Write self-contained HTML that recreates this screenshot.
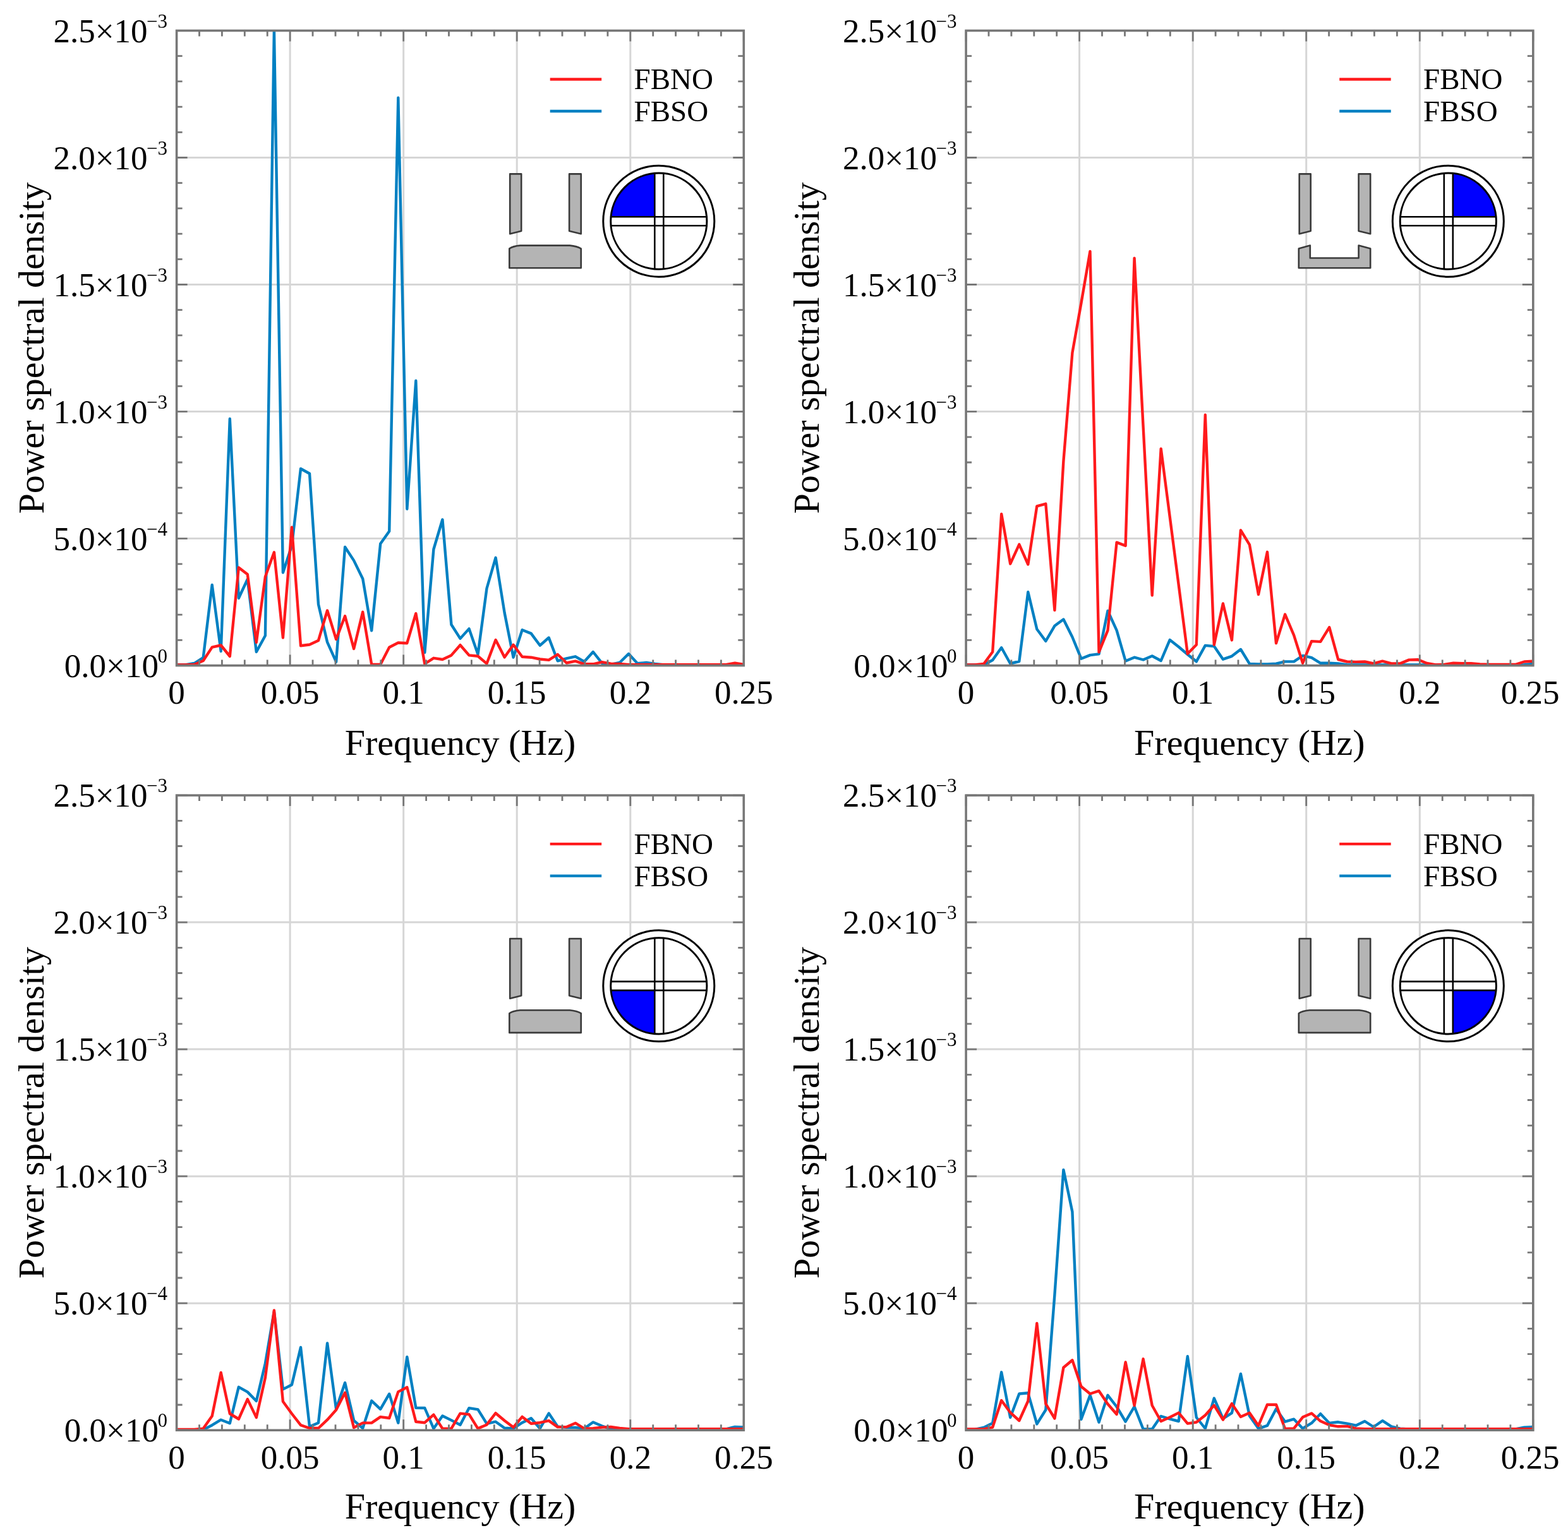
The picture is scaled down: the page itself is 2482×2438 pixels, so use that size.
<!DOCTYPE html><html><head><meta charset="utf-8"><style>html,body{margin:0;padding:0;background:#fff}svg{display:block}</style></head><body>
<svg width="2482" height="2438" viewBox="0 0 2482 2438" font-family="'Liberation Serif', 'Times New Roman', serif" fill="#000">
<rect width="2482" height="2438" fill="#fff"/>
<g><path d="M459.1 48.5V1053.6M638.7 48.5V1053.6M818.2 48.5V1053.6M997.8 48.5V1053.6M279.6 852.6H1177.3M279.6 651.6H1177.3M279.6 450.5H1177.3M279.6 249.5H1177.3" stroke="#d6d6d6" stroke-width="3" fill="none"/><clipPath id="c0"><rect x="279.6" y="48.0" width="897.7" height="1006.1"/></clipPath><polyline points="279.6,1052.5 293.6,1052.5 307.7,1050.0 321.7,1041.0 335.7,926.0 349.7,1031.0 363.8,663.0 377.8,947.0 391.8,917.0 405.8,1032.0 419.9,1006.3 433.9,47.0 447.9,906.5 461.9,864.0 476.0,742.0 490.0,749.7 504.0,956.8 518.1,1016.7 532.1,1047.9 546.1,866.0 560.1,887.4 574.2,916.2 588.2,998.3 602.2,860.8 616.2,841.0 630.3,154.8 644.3,805.8 658.3,602.8 672.3,1033.0 686.4,869.5 700.4,822.5 714.4,988.8 728.5,1010.9 742.5,995.4 756.5,1035.9 770.5,931.5 784.6,882.8 798.6,970.0 812.6,1040.7 826.6,997.2 840.7,1002.9 854.7,1021.8 868.7,1009.5 882.7,1046.3 896.8,1042.3 910.8,1039.3 924.8,1047.5 938.8,1032.0 952.9,1049.8 966.9,1052.0 980.9,1049.0 995.0,1035.1 1009.0,1050.2 1023.0,1049.0 1037.0,1051.0 1051.1,1052.5 1065.1,1052.5 1079.1,1052.5 1093.1,1052.5 1107.2,1052.5 1121.2,1052.5 1135.2,1052.5 1149.2,1052.5 1163.3,1052.5 1177.3,1052.5" fill="none" stroke="#0080c2" stroke-width="4.4" stroke-linejoin="round" stroke-linecap="round" clip-path="url(#c0)"/><polyline points="279.6,1052.5 293.6,1052.5 307.7,1052.0 321.7,1046.0 335.7,1024.6 349.7,1021.5 363.8,1039.0 377.8,898.5 391.8,909.3 405.8,1017.0 419.9,913.0 433.9,874.3 447.9,1009.5 461.9,834.6 476.0,1022.3 490.0,1020.5 504.0,1014.0 518.1,966.5 532.1,1012.1 546.1,975.2 560.1,1027.1 574.2,968.8 588.2,1052.0 602.2,1052.0 616.2,1024.8 630.3,1017.5 644.3,1018.2 658.3,971.2 672.3,1051.0 686.4,1041.8 700.4,1044.0 714.4,1037.4 728.5,1021.2 742.5,1037.4 756.5,1038.8 770.5,1050.6 784.6,1013.0 798.6,1040.5 812.6,1020.8 826.6,1039.7 840.7,1040.7 854.7,1043.5 868.7,1044.9 882.7,1036.0 896.8,1049.5 910.8,1046.7 924.8,1051.3 938.8,1051.3 952.9,1048.2 966.9,1050.6 980.9,1051.0 995.0,1052.2 1009.0,1052.2 1023.0,1052.2 1037.0,1052.2 1051.1,1052.2 1065.1,1052.2 1079.1,1052.2 1093.1,1052.2 1107.2,1052.2 1121.2,1052.2 1135.2,1052.2 1149.2,1052.2 1163.3,1049.7 1177.3,1052.0" fill="none" stroke="#ff1a1c" stroke-width="4.4" stroke-linejoin="round" stroke-linecap="round" clip-path="url(#c0)"/><path d="M279.6 1053.6v-17M279.6 48.5v17M279.6 1053.6h17M1177.3 1053.6h-17M315.5 1053.6v-9M315.5 48.5v9M279.6 1013.4h9M1177.3 1013.4h-9M351.4 1053.6v-9M351.4 48.5v9M279.6 973.2h9M1177.3 973.2h-9M387.3 1053.6v-9M387.3 48.5v9M279.6 933.0h9M1177.3 933.0h-9M423.2 1053.6v-9M423.2 48.5v9M279.6 892.8h9M1177.3 892.8h-9M459.1 1053.6v-17M459.1 48.5v17M279.6 852.6h17M1177.3 852.6h-17M495.0 1053.6v-9M495.0 48.5v9M279.6 812.4h9M1177.3 812.4h-9M531.0 1053.6v-9M531.0 48.5v9M279.6 772.2h9M1177.3 772.2h-9M566.9 1053.6v-9M566.9 48.5v9M279.6 732.0h9M1177.3 732.0h-9M602.8 1053.6v-9M602.8 48.5v9M279.6 691.8h9M1177.3 691.8h-9M638.7 1053.6v-17M638.7 48.5v17M279.6 651.6h17M1177.3 651.6h-17M674.6 1053.6v-9M674.6 48.5v9M279.6 611.4h9M1177.3 611.4h-9M710.5 1053.6v-9M710.5 48.5v9M279.6 571.2h9M1177.3 571.2h-9M746.4 1053.6v-9M746.4 48.5v9M279.6 530.9h9M1177.3 530.9h-9M782.3 1053.6v-9M782.3 48.5v9M279.6 490.7h9M1177.3 490.7h-9M818.2 1053.6v-17M818.2 48.5v17M279.6 450.5h17M1177.3 450.5h-17M854.1 1053.6v-9M854.1 48.5v9M279.6 410.3h9M1177.3 410.3h-9M890.0 1053.6v-9M890.0 48.5v9M279.6 370.1h9M1177.3 370.1h-9M925.9 1053.6v-9M925.9 48.5v9M279.6 329.9h9M1177.3 329.9h-9M961.9 1053.6v-9M961.9 48.5v9M279.6 289.7h9M1177.3 289.7h-9M997.8 1053.6v-17M997.8 48.5v17M279.6 249.5h17M1177.3 249.5h-17M1033.7 1053.6v-9M1033.7 48.5v9M279.6 209.3h9M1177.3 209.3h-9M1069.6 1053.6v-9M1069.6 48.5v9M279.6 169.1h9M1177.3 169.1h-9M1105.5 1053.6v-9M1105.5 48.5v9M279.6 128.9h9M1177.3 128.9h-9M1141.4 1053.6v-9M1141.4 48.5v9M279.6 88.7h9M1177.3 88.7h-9M1177.3 1053.6v-17M1177.3 48.5v17M279.6 48.5h17M1177.3 48.5h-17" stroke="#777" stroke-width="2.8" fill="none"/><rect x="279.6" y="48.5" width="897.7" height="1005.1" fill="none" stroke="#777" stroke-width="3.6"/><text x="265.0" y="1071.6" font-size="53" text-anchor="end">0.0×10<tspan font-size="31" dx="-1.5" dy="-23">0</tspan></text><text x="265.0" y="870.6" font-size="53" text-anchor="end">5.0×10<tspan font-size="31" dx="-1.5" dy="-23">−4</tspan></text><text x="265.0" y="669.6" font-size="53" text-anchor="end">1.0×10<tspan font-size="31" dx="-1.5" dy="-23">−3</tspan></text><text x="265.0" y="468.5" font-size="53" text-anchor="end">1.5×10<tspan font-size="31" dx="-1.5" dy="-23">−3</tspan></text><text x="265.0" y="267.5" font-size="53" text-anchor="end">2.0×10<tspan font-size="31" dx="-1.5" dy="-23">−3</tspan></text><text x="265.0" y="66.5" font-size="53" text-anchor="end">2.5×10<tspan font-size="31" dx="-1.5" dy="-23">−3</tspan></text><text x="279.6" y="1114.2" font-size="53" text-anchor="middle">0</text><text x="459.1" y="1114.2" font-size="53" text-anchor="middle">0.05</text><text x="638.7" y="1114.2" font-size="53" text-anchor="middle">0.1</text><text x="818.2" y="1114.2" font-size="53" text-anchor="middle">0.15</text><text x="997.8" y="1114.2" font-size="53" text-anchor="middle">0.2</text><text x="1177.3" y="1114.2" font-size="53" text-anchor="middle">0.25</text><text x="728.5" y="1195.0" font-size="58" text-anchor="middle">Frequency (Hz)</text><text transform="translate(69.4,551.0) rotate(-90)" font-size="58" text-anchor="middle">Power spectral density</text><path d="M870.7 125.5H952.2" stroke="#ff1a1c" stroke-width="4.4"/><path d="M870.7 176.0H952.2" stroke="#0080c2" stroke-width="4.4"/><text x="1003.6" y="141.1" font-size="47">FBNO</text><text x="1003.6" y="192.2" font-size="47">FBSO</text><path d="M807.2 275.4L825.2 275.4L825.2 365.7L807.2 370.2Z" stroke="#3a3a3a" stroke-width="2.6" fill="#b4b4b4" stroke-linejoin="round"/><path d="M901.1 275.4L919.7 275.4L919.7 370.2L901.1 365.7Z" stroke="#3a3a3a" stroke-width="2.6" fill="#b4b4b4" stroke-linejoin="round"/><path d="M806.3 424.3L919.7 424.3L919.7 393.6Q913.0 389.5 902.0 388.6L823.4 388.6Q812.0 389.5 806.3 393.6Z" stroke="#3a3a3a" stroke-width="2.6" fill="#b4b4b4" stroke-linejoin="round"/><circle cx="1042.8" cy="350.2" r="88" fill="#fff" stroke="#000" stroke-width="3"/><path d="M1036.30 343.30L1036.30 274.38A76.1 76.1 0 0 0 967.01 343.30Z" fill="#0000ff"/><circle cx="1042.8" cy="350.2" r="76.1" fill="none" stroke="#000" stroke-width="3"/><path d="M1036.30 274.38V426.02M1050.30 274.47V425.93M967.01 343.30H1118.59M967.03 357.30H1118.57" stroke="#000" stroke-width="2.6" fill="none"/></g>
<g><path d="M1708.6 48.5V1053.6M1888.2 48.5V1053.6M2067.7 48.5V1053.6M2247.3 48.5V1053.6M1529.1 852.6H2426.8M1529.1 651.6H2426.8M1529.1 450.5H2426.8M1529.1 249.5H2426.8" stroke="#d6d6d6" stroke-width="3" fill="none"/><clipPath id="c1"><rect x="1529.1" y="48.0" width="897.7" height="1006.1"/></clipPath><polyline points="1529.1,1052.5 1543.1,1052.5 1557.2,1052.5 1571.2,1045.0 1585.2,1025.3 1599.2,1050.5 1613.3,1047.0 1627.3,937.3 1641.3,996.0 1655.3,1015.0 1669.4,990.8 1683.4,980.5 1697.4,1008.5 1711.4,1042.7 1725.5,1037.1 1739.5,1035.4 1753.5,967.0 1767.6,997.9 1781.6,1046.5 1795.6,1040.7 1809.6,1044.5 1823.7,1038.5 1837.7,1046.0 1851.7,1013.0 1865.7,1024.0 1879.8,1036.0 1893.8,1047.3 1907.8,1021.9 1921.8,1023.1 1935.9,1043.7 1949.9,1038.8 1963.9,1028.0 1977.9,1050.9 1992.0,1051.5 2006.0,1051.5 2020.0,1050.6 2034.1,1047.4 2048.1,1047.4 2062.1,1038.0 2076.1,1041.1 2090.2,1049.8 2104.2,1049.8 2118.2,1050.5 2132.2,1052.5 2146.3,1052.5 2160.3,1052.5 2174.3,1052.5 2188.3,1052.5 2202.4,1052.5 2216.4,1052.5 2230.4,1052.5 2244.5,1052.5 2258.5,1052.5 2272.5,1052.5 2286.5,1052.5 2300.6,1052.5 2314.6,1052.5 2328.6,1052.5 2342.6,1052.5 2356.7,1052.5 2370.7,1052.5 2384.7,1052.5 2398.7,1052.5 2412.8,1052.3 2426.8,1051.0" fill="none" stroke="#0080c2" stroke-width="4.4" stroke-linejoin="round" stroke-linecap="round" clip-path="url(#c1)"/><polyline points="1529.1,1052.5 1543.1,1052.5 1557.2,1051.0 1571.2,1032.0 1585.2,813.6 1599.2,892.6 1613.3,861.8 1627.3,893.5 1641.3,801.3 1655.3,797.6 1669.4,966.0 1683.4,730.0 1697.4,558.6 1711.4,480.0 1725.5,397.9 1739.5,1032.5 1753.5,997.9 1767.6,858.6 1781.6,863.9 1795.6,408.6 1809.6,675.5 1823.7,942.5 1837.7,710.4 1851.7,818.0 1865.7,926.0 1879.8,1035.0 1893.8,1020.7 1907.8,656.8 1921.8,1020.7 1935.9,955.4 1949.9,1013.4 1963.9,839.4 1977.9,862.3 1992.0,941.0 2006.0,873.8 2020.0,1018.3 2034.1,972.6 2048.1,1005.7 2062.1,1049.8 2076.1,1015.1 2090.2,1015.9 2104.2,993.1 2118.2,1044.0 2132.2,1047.5 2146.3,1047.9 2160.3,1047.5 2174.3,1050.4 2188.3,1046.7 2202.4,1050.4 2216.4,1050.4 2230.4,1044.6 2244.5,1044.2 2258.5,1050.0 2272.5,1052.4 2286.5,1052.0 2300.6,1049.7 2314.6,1050.2 2328.6,1050.2 2342.6,1051.5 2356.7,1052.0 2370.7,1052.0 2384.7,1052.0 2398.7,1052.0 2412.8,1047.5 2426.8,1046.7" fill="none" stroke="#ff1a1c" stroke-width="4.4" stroke-linejoin="round" stroke-linecap="round" clip-path="url(#c1)"/><path d="M1529.1 1053.6v-17M1529.1 48.5v17M1529.1 1053.6h17M2426.8 1053.6h-17M1565.0 1053.6v-9M1565.0 48.5v9M1529.1 1013.4h9M2426.8 1013.4h-9M1600.9 1053.6v-9M1600.9 48.5v9M1529.1 973.2h9M2426.8 973.2h-9M1636.8 1053.6v-9M1636.8 48.5v9M1529.1 933.0h9M2426.8 933.0h-9M1672.7 1053.6v-9M1672.7 48.5v9M1529.1 892.8h9M2426.8 892.8h-9M1708.6 1053.6v-17M1708.6 48.5v17M1529.1 852.6h17M2426.8 852.6h-17M1744.5 1053.6v-9M1744.5 48.5v9M1529.1 812.4h9M2426.8 812.4h-9M1780.5 1053.6v-9M1780.5 48.5v9M1529.1 772.2h9M2426.8 772.2h-9M1816.4 1053.6v-9M1816.4 48.5v9M1529.1 732.0h9M2426.8 732.0h-9M1852.3 1053.6v-9M1852.3 48.5v9M1529.1 691.8h9M2426.8 691.8h-9M1888.2 1053.6v-17M1888.2 48.5v17M1529.1 651.6h17M2426.8 651.6h-17M1924.1 1053.6v-9M1924.1 48.5v9M1529.1 611.4h9M2426.8 611.4h-9M1960.0 1053.6v-9M1960.0 48.5v9M1529.1 571.2h9M2426.8 571.2h-9M1995.9 1053.6v-9M1995.9 48.5v9M1529.1 530.9h9M2426.8 530.9h-9M2031.8 1053.6v-9M2031.8 48.5v9M1529.1 490.7h9M2426.8 490.7h-9M2067.7 1053.6v-17M2067.7 48.5v17M1529.1 450.5h17M2426.8 450.5h-17M2103.6 1053.6v-9M2103.6 48.5v9M1529.1 410.3h9M2426.8 410.3h-9M2139.5 1053.6v-9M2139.5 48.5v9M1529.1 370.1h9M2426.8 370.1h-9M2175.4 1053.6v-9M2175.4 48.5v9M1529.1 329.9h9M2426.8 329.9h-9M2211.4 1053.6v-9M2211.4 48.5v9M1529.1 289.7h9M2426.8 289.7h-9M2247.3 1053.6v-17M2247.3 48.5v17M1529.1 249.5h17M2426.8 249.5h-17M2283.2 1053.6v-9M2283.2 48.5v9M1529.1 209.3h9M2426.8 209.3h-9M2319.1 1053.6v-9M2319.1 48.5v9M1529.1 169.1h9M2426.8 169.1h-9M2355.0 1053.6v-9M2355.0 48.5v9M1529.1 128.9h9M2426.8 128.9h-9M2390.9 1053.6v-9M2390.9 48.5v9M1529.1 88.7h9M2426.8 88.7h-9M2426.8 1053.6v-17M2426.8 48.5v17M1529.1 48.5h17M2426.8 48.5h-17" stroke="#777" stroke-width="2.8" fill="none"/><rect x="1529.1" y="48.5" width="897.7" height="1005.1" fill="none" stroke="#777" stroke-width="3.6"/><text x="1514.5" y="1071.6" font-size="53" text-anchor="end">0.0×10<tspan font-size="31" dx="-1.5" dy="-23">0</tspan></text><text x="1514.5" y="870.6" font-size="53" text-anchor="end">5.0×10<tspan font-size="31" dx="-1.5" dy="-23">−4</tspan></text><text x="1514.5" y="669.6" font-size="53" text-anchor="end">1.0×10<tspan font-size="31" dx="-1.5" dy="-23">−3</tspan></text><text x="1514.5" y="468.5" font-size="53" text-anchor="end">1.5×10<tspan font-size="31" dx="-1.5" dy="-23">−3</tspan></text><text x="1514.5" y="267.5" font-size="53" text-anchor="end">2.0×10<tspan font-size="31" dx="-1.5" dy="-23">−3</tspan></text><text x="1514.5" y="66.5" font-size="53" text-anchor="end">2.5×10<tspan font-size="31" dx="-1.5" dy="-23">−3</tspan></text><text x="1529.1" y="1114.2" font-size="53" text-anchor="middle">0</text><text x="1708.6" y="1114.2" font-size="53" text-anchor="middle">0.05</text><text x="1888.2" y="1114.2" font-size="53" text-anchor="middle">0.1</text><text x="2067.7" y="1114.2" font-size="53" text-anchor="middle">0.15</text><text x="2247.3" y="1114.2" font-size="53" text-anchor="middle">0.2</text><text x="2422.0" y="1114.2" font-size="53" text-anchor="middle">0.25</text><text x="1977.9" y="1195.0" font-size="58" text-anchor="middle">Frequency (Hz)</text><text transform="translate(1295.8,551.0) rotate(-90)" font-size="58" text-anchor="middle">Power spectral density</text><path d="M2120.2 125.5H2201.7" stroke="#ff1a1c" stroke-width="4.4"/><path d="M2120.2 176.0H2201.7" stroke="#0080c2" stroke-width="4.4"/><text x="2253.1" y="141.1" font-size="47">FBNO</text><text x="2253.1" y="192.2" font-size="47">FBSO</text><path d="M2056.7 275.4L2074.7 275.4L2074.7 365.7L2056.7 370.2Z" stroke="#3a3a3a" stroke-width="2.6" fill="#b4b4b4" stroke-linejoin="round"/><path d="M2150.6 275.4L2169.2 275.4L2169.2 370.2L2150.6 365.7Z" stroke="#3a3a3a" stroke-width="2.6" fill="#b4b4b4" stroke-linejoin="round"/><path d="M2055.8 424.3L2169.2 424.3L2169.2 393.6L2150.6 388.6L2150.6 408.5L2073.8 408.5L2073.8 388.6L2055.8 393.6Z" stroke="#3a3a3a" stroke-width="2.6" fill="#b4b4b4" stroke-linejoin="round"/><circle cx="2292.3" cy="350.2" r="88" fill="#fff" stroke="#000" stroke-width="3"/><path d="M2299.80 343.30L2299.80 274.47A76.1 76.1 0 0 1 2368.09 343.30Z" fill="#0000ff"/><circle cx="2292.3" cy="350.2" r="76.1" fill="none" stroke="#000" stroke-width="3"/><path d="M2285.80 274.38V426.02M2299.80 274.47V425.93M2216.51 343.30H2368.09M2216.53 357.30H2368.07" stroke="#000" stroke-width="2.6" fill="none"/></g>
<g><path d="M459.1 1259.1V2264.2M638.7 1259.1V2264.2M818.2 1259.1V2264.2M997.8 1259.1V2264.2M279.6 2063.2H1177.3M279.6 1862.2H1177.3M279.6 1661.1H1177.3M279.6 1460.1H1177.3" stroke="#d6d6d6" stroke-width="3" fill="none"/><clipPath id="c2"><rect x="279.6" y="1258.6" width="897.7" height="1006.1"/></clipPath><polyline points="279.6,2263.4 293.6,2263.4 307.7,2263.4 321.7,2263.4 335.7,2256.2 349.7,2247.7 363.8,2253.2 377.8,2195.8 391.8,2203.6 405.8,2218.0 419.9,2158.4 433.9,2076.0 447.9,2199.4 461.9,2192.2 476.0,2133.0 490.0,2258.6 504.0,2252.6 518.1,2126.4 532.1,2230.8 546.1,2189.0 560.1,2248.8 574.2,2261.0 588.2,2217.6 602.2,2230.8 616.2,2206.7 630.3,2252.6 644.3,2148.1 658.3,2228.9 672.3,2229.0 686.4,2261.6 700.4,2241.5 714.4,2248.4 728.5,2255.8 742.5,2229.1 756.5,2231.4 770.5,2253.8 784.6,2250.7 798.6,2260.8 812.6,2261.5 826.6,2252.2 840.7,2245.2 854.7,2261.5 868.7,2237.5 882.7,2258.4 896.8,2259.9 910.8,2259.9 924.8,2261.5 938.8,2251.5 952.9,2257.6 966.9,2262.2 980.9,2262.5 995.0,2262.5 1009.0,2262.5 1023.0,2262.5 1037.0,2262.5 1051.1,2262.5 1065.1,2262.5 1079.1,2262.5 1093.1,2262.5 1107.2,2262.5 1121.2,2262.5 1135.2,2262.5 1149.2,2262.5 1163.3,2259.0 1177.3,2259.5" fill="none" stroke="#0080c2" stroke-width="4.4" stroke-linejoin="round" stroke-linecap="round" clip-path="url(#c2)"/><polyline points="279.6,2263.0 293.6,2263.0 307.7,2263.0 321.7,2261.6 335.7,2241.7 349.7,2172.9 363.8,2238.0 377.8,2246.5 391.8,2215.1 405.8,2244.1 419.9,2181.0 433.9,2074.4 447.9,2218.7 461.9,2238.0 476.0,2256.2 490.0,2261.0 504.0,2261.0 518.1,2247.7 532.1,2232.0 546.1,2204.8 560.1,2260.1 574.2,2252.6 588.2,2252.6 602.2,2243.1 616.2,2245.0 630.3,2203.4 644.3,2196.3 658.3,2250.7 672.3,2252.2 686.4,2239.6 700.4,2261.6 714.4,2261.6 728.5,2237.6 742.5,2239.1 756.5,2261.6 770.5,2255.4 784.6,2237.2 798.6,2249.0 812.6,2259.6 826.6,2242.9 840.7,2253.7 854.7,2252.2 868.7,2249.1 882.7,2259.1 896.8,2259.1 910.8,2252.9 924.8,2261.5 938.8,2261.2 952.9,2259.6 966.9,2259.0 980.9,2261.0 995.0,2262.2 1009.0,2262.2 1023.0,2262.2 1037.0,2262.2 1051.1,2262.2 1065.1,2262.2 1079.1,2262.2 1093.1,2262.2 1107.2,2262.2 1121.2,2262.2 1135.2,2262.2 1149.2,2262.2 1163.3,2262.2 1177.3,2262.2" fill="none" stroke="#ff1a1c" stroke-width="4.4" stroke-linejoin="round" stroke-linecap="round" clip-path="url(#c2)"/><path d="M279.6 2264.2v-17M279.6 1259.1v17M279.6 2264.2h17M1177.3 2264.2h-17M315.5 2264.2v-9M315.5 1259.1v9M279.6 2224.0h9M1177.3 2224.0h-9M351.4 2264.2v-9M351.4 1259.1v9M279.6 2183.8h9M1177.3 2183.8h-9M387.3 2264.2v-9M387.3 1259.1v9M279.6 2143.6h9M1177.3 2143.6h-9M423.2 2264.2v-9M423.2 1259.1v9M279.6 2103.4h9M1177.3 2103.4h-9M459.1 2264.2v-17M459.1 1259.1v17M279.6 2063.2h17M1177.3 2063.2h-17M495.0 2264.2v-9M495.0 1259.1v9M279.6 2023.0h9M1177.3 2023.0h-9M531.0 2264.2v-9M531.0 1259.1v9M279.6 1982.8h9M1177.3 1982.8h-9M566.9 2264.2v-9M566.9 1259.1v9M279.6 1942.6h9M1177.3 1942.6h-9M602.8 2264.2v-9M602.8 1259.1v9M279.6 1902.4h9M1177.3 1902.4h-9M638.7 2264.2v-17M638.7 1259.1v17M279.6 1862.2h17M1177.3 1862.2h-17M674.6 2264.2v-9M674.6 1259.1v9M279.6 1822.0h9M1177.3 1822.0h-9M710.5 2264.2v-9M710.5 1259.1v9M279.6 1781.8h9M1177.3 1781.8h-9M746.4 2264.2v-9M746.4 1259.1v9M279.6 1741.5h9M1177.3 1741.5h-9M782.3 2264.2v-9M782.3 1259.1v9M279.6 1701.3h9M1177.3 1701.3h-9M818.2 2264.2v-17M818.2 1259.1v17M279.6 1661.1h17M1177.3 1661.1h-17M854.1 2264.2v-9M854.1 1259.1v9M279.6 1620.9h9M1177.3 1620.9h-9M890.0 2264.2v-9M890.0 1259.1v9M279.6 1580.7h9M1177.3 1580.7h-9M925.9 2264.2v-9M925.9 1259.1v9M279.6 1540.5h9M1177.3 1540.5h-9M961.9 2264.2v-9M961.9 1259.1v9M279.6 1500.3h9M1177.3 1500.3h-9M997.8 2264.2v-17M997.8 1259.1v17M279.6 1460.1h17M1177.3 1460.1h-17M1033.7 2264.2v-9M1033.7 1259.1v9M279.6 1419.9h9M1177.3 1419.9h-9M1069.6 2264.2v-9M1069.6 1259.1v9M279.6 1379.7h9M1177.3 1379.7h-9M1105.5 2264.2v-9M1105.5 1259.1v9M279.6 1339.5h9M1177.3 1339.5h-9M1141.4 2264.2v-9M1141.4 1259.1v9M279.6 1299.3h9M1177.3 1299.3h-9M1177.3 2264.2v-17M1177.3 1259.1v17M279.6 1259.1h17M1177.3 1259.1h-17" stroke="#777" stroke-width="2.8" fill="none"/><rect x="279.6" y="1259.1" width="897.7" height="1005.1" fill="none" stroke="#777" stroke-width="3.6"/><text x="265.0" y="2282.2" font-size="53" text-anchor="end">0.0×10<tspan font-size="31" dx="-1.5" dy="-23">0</tspan></text><text x="265.0" y="2081.2" font-size="53" text-anchor="end">5.0×10<tspan font-size="31" dx="-1.5" dy="-23">−4</tspan></text><text x="265.0" y="1880.2" font-size="53" text-anchor="end">1.0×10<tspan font-size="31" dx="-1.5" dy="-23">−3</tspan></text><text x="265.0" y="1679.1" font-size="53" text-anchor="end">1.5×10<tspan font-size="31" dx="-1.5" dy="-23">−3</tspan></text><text x="265.0" y="1478.1" font-size="53" text-anchor="end">2.0×10<tspan font-size="31" dx="-1.5" dy="-23">−3</tspan></text><text x="265.0" y="1277.1" font-size="53" text-anchor="end">2.5×10<tspan font-size="31" dx="-1.5" dy="-23">−3</tspan></text><text x="279.6" y="2324.8" font-size="53" text-anchor="middle">0</text><text x="459.1" y="2324.8" font-size="53" text-anchor="middle">0.05</text><text x="638.7" y="2324.8" font-size="53" text-anchor="middle">0.1</text><text x="818.2" y="2324.8" font-size="53" text-anchor="middle">0.15</text><text x="997.8" y="2324.8" font-size="53" text-anchor="middle">0.2</text><text x="1177.3" y="2324.8" font-size="53" text-anchor="middle">0.25</text><text x="728.5" y="2403.6" font-size="58" text-anchor="middle">Frequency (Hz)</text><text transform="translate(69.4,1761.6) rotate(-90)" font-size="58" text-anchor="middle">Power spectral density</text><path d="M870.7 1336.1H952.2" stroke="#ff1a1c" stroke-width="4.4"/><path d="M870.7 1386.6H952.2" stroke="#0080c2" stroke-width="4.4"/><text x="1003.6" y="1351.7" font-size="47">FBNO</text><text x="1003.6" y="1402.8" font-size="47">FBSO</text><path d="M807.2 1486.0L825.2 1486.0L825.2 1576.3L807.2 1580.8Z" stroke="#3a3a3a" stroke-width="2.6" fill="#b4b4b4" stroke-linejoin="round"/><path d="M901.1 1486.0L919.7 1486.0L919.7 1580.8L901.1 1576.3Z" stroke="#3a3a3a" stroke-width="2.6" fill="#b4b4b4" stroke-linejoin="round"/><path d="M806.3 1634.9L919.7 1634.9L919.7 1604.2Q913.0 1600.1 902.0 1599.2L823.4 1599.2Q812.0 1600.1 806.3 1604.2Z" stroke="#3a3a3a" stroke-width="2.6" fill="#b4b4b4" stroke-linejoin="round"/><circle cx="1042.8" cy="1560.8" r="88" fill="#fff" stroke="#000" stroke-width="3"/><path d="M1036.30 1567.90L1036.30 1636.62A76.1 76.1 0 0 1 967.03 1567.90Z" fill="#0000ff"/><circle cx="1042.8" cy="1560.8" r="76.1" fill="none" stroke="#000" stroke-width="3"/><path d="M1036.30 1484.98V1636.62M1050.30 1485.07V1636.53M967.01 1553.90H1118.59M967.03 1567.90H1118.57" stroke="#000" stroke-width="2.6" fill="none"/></g>
<g><path d="M1708.6 1259.1V2264.2M1888.2 1259.1V2264.2M2067.7 1259.1V2264.2M2247.3 1259.1V2264.2M1529.1 2063.2H2426.8M1529.1 1862.2H2426.8M1529.1 1661.1H2426.8M1529.1 1460.1H2426.8" stroke="#d6d6d6" stroke-width="3" fill="none"/><clipPath id="c3"><rect x="1529.1" y="1258.6" width="897.7" height="1006.1"/></clipPath><polyline points="1529.1,2263.0 1543.1,2263.0 1557.2,2260.0 1571.2,2253.0 1585.2,2172.3 1599.2,2244.1 1613.3,2206.5 1627.3,2205.3 1641.3,2254.4 1655.3,2232.0 1669.4,2050.0 1683.4,1851.9 1697.4,1918.5 1711.4,2247.0 1725.5,2208.8 1739.5,2251.6 1753.5,2208.8 1767.6,2227.0 1781.6,2250.5 1795.6,2226.8 1809.6,2262.5 1823.7,2262.5 1837.7,2242.0 1851.7,2246.4 1865.7,2250.0 1879.8,2147.3 1893.8,2244.0 1907.8,2261.5 1921.8,2213.6 1935.9,2246.0 1949.9,2236.8 1963.9,2174.9 1977.9,2241.5 1992.0,2261.6 2006.0,2256.9 2020.0,2230.5 2034.1,2250.7 2048.1,2246.7 2062.1,2261.4 2076.1,2252.9 2090.2,2238.2 2104.2,2252.9 2118.2,2251.3 2132.2,2253.7 2146.3,2256.7 2160.3,2250.0 2174.3,2259.0 2188.3,2249.2 2202.4,2258.3 2216.4,2261.7 2230.4,2262.4 2244.5,2262.4 2258.5,2262.4 2272.5,2262.4 2286.5,2262.4 2300.6,2262.4 2314.6,2262.4 2328.6,2262.4 2342.6,2262.4 2356.7,2262.4 2370.7,2262.4 2384.7,2262.4 2398.7,2262.4 2412.8,2259.7 2426.8,2259.0" fill="none" stroke="#0080c2" stroke-width="4.4" stroke-linejoin="round" stroke-linecap="round" clip-path="url(#c3)"/><polyline points="1529.1,2262.4 1543.1,2262.4 1557.2,2262.4 1571.2,2259.6 1585.2,2217.0 1599.2,2236.2 1613.3,2249.0 1627.3,2218.0 1641.3,2095.0 1655.3,2222.3 1669.4,2245.5 1683.4,2165.0 1697.4,2153.3 1711.4,2195.0 1725.5,2206.5 1739.5,2201.9 1753.5,2222.7 1767.6,2239.0 1781.6,2156.5 1795.6,2225.0 1809.6,2151.3 1823.7,2225.0 1837.7,2250.0 1851.7,2243.8 1865.7,2236.6 1879.8,2253.6 1893.8,2251.5 1907.8,2240.5 1921.8,2224.8 1935.9,2247.6 1949.9,2222.1 1963.9,2243.0 1977.9,2236.8 1992.0,2256.9 2006.0,2223.7 2020.0,2223.6 2034.1,2262.0 2048.1,2261.4 2062.1,2243.6 2076.1,2237.4 2090.2,2249.8 2104.2,2256.0 2118.2,2258.3 2132.2,2257.9 2146.3,2261.4 2160.3,2262.3 2174.3,2262.3 2188.3,2262.3 2202.4,2262.3 2216.4,2262.3 2230.4,2262.3 2244.5,2262.3 2258.5,2262.3 2272.5,2262.3 2286.5,2262.3 2300.6,2262.3 2314.6,2262.3 2328.6,2262.3 2342.6,2262.3 2356.7,2262.3 2370.7,2262.3 2384.7,2262.3 2398.7,2262.3 2412.8,2262.3 2426.8,2262.3" fill="none" stroke="#ff1a1c" stroke-width="4.4" stroke-linejoin="round" stroke-linecap="round" clip-path="url(#c3)"/><path d="M1529.1 2264.2v-17M1529.1 1259.1v17M1529.1 2264.2h17M2426.8 2264.2h-17M1565.0 2264.2v-9M1565.0 1259.1v9M1529.1 2224.0h9M2426.8 2224.0h-9M1600.9 2264.2v-9M1600.9 1259.1v9M1529.1 2183.8h9M2426.8 2183.8h-9M1636.8 2264.2v-9M1636.8 1259.1v9M1529.1 2143.6h9M2426.8 2143.6h-9M1672.7 2264.2v-9M1672.7 1259.1v9M1529.1 2103.4h9M2426.8 2103.4h-9M1708.6 2264.2v-17M1708.6 1259.1v17M1529.1 2063.2h17M2426.8 2063.2h-17M1744.5 2264.2v-9M1744.5 1259.1v9M1529.1 2023.0h9M2426.8 2023.0h-9M1780.5 2264.2v-9M1780.5 1259.1v9M1529.1 1982.8h9M2426.8 1982.8h-9M1816.4 2264.2v-9M1816.4 1259.1v9M1529.1 1942.6h9M2426.8 1942.6h-9M1852.3 2264.2v-9M1852.3 1259.1v9M1529.1 1902.4h9M2426.8 1902.4h-9M1888.2 2264.2v-17M1888.2 1259.1v17M1529.1 1862.2h17M2426.8 1862.2h-17M1924.1 2264.2v-9M1924.1 1259.1v9M1529.1 1822.0h9M2426.8 1822.0h-9M1960.0 2264.2v-9M1960.0 1259.1v9M1529.1 1781.8h9M2426.8 1781.8h-9M1995.9 2264.2v-9M1995.9 1259.1v9M1529.1 1741.5h9M2426.8 1741.5h-9M2031.8 2264.2v-9M2031.8 1259.1v9M1529.1 1701.3h9M2426.8 1701.3h-9M2067.7 2264.2v-17M2067.7 1259.1v17M1529.1 1661.1h17M2426.8 1661.1h-17M2103.6 2264.2v-9M2103.6 1259.1v9M1529.1 1620.9h9M2426.8 1620.9h-9M2139.5 2264.2v-9M2139.5 1259.1v9M1529.1 1580.7h9M2426.8 1580.7h-9M2175.4 2264.2v-9M2175.4 1259.1v9M1529.1 1540.5h9M2426.8 1540.5h-9M2211.4 2264.2v-9M2211.4 1259.1v9M1529.1 1500.3h9M2426.8 1500.3h-9M2247.3 2264.2v-17M2247.3 1259.1v17M1529.1 1460.1h17M2426.8 1460.1h-17M2283.2 2264.2v-9M2283.2 1259.1v9M1529.1 1419.9h9M2426.8 1419.9h-9M2319.1 2264.2v-9M2319.1 1259.1v9M1529.1 1379.7h9M2426.8 1379.7h-9M2355.0 2264.2v-9M2355.0 1259.1v9M1529.1 1339.5h9M2426.8 1339.5h-9M2390.9 2264.2v-9M2390.9 1259.1v9M1529.1 1299.3h9M2426.8 1299.3h-9M2426.8 2264.2v-17M2426.8 1259.1v17M1529.1 1259.1h17M2426.8 1259.1h-17" stroke="#777" stroke-width="2.8" fill="none"/><rect x="1529.1" y="1259.1" width="897.7" height="1005.1" fill="none" stroke="#777" stroke-width="3.6"/><text x="1514.5" y="2282.2" font-size="53" text-anchor="end">0.0×10<tspan font-size="31" dx="-1.5" dy="-23">0</tspan></text><text x="1514.5" y="2081.2" font-size="53" text-anchor="end">5.0×10<tspan font-size="31" dx="-1.5" dy="-23">−4</tspan></text><text x="1514.5" y="1880.2" font-size="53" text-anchor="end">1.0×10<tspan font-size="31" dx="-1.5" dy="-23">−3</tspan></text><text x="1514.5" y="1679.1" font-size="53" text-anchor="end">1.5×10<tspan font-size="31" dx="-1.5" dy="-23">−3</tspan></text><text x="1514.5" y="1478.1" font-size="53" text-anchor="end">2.0×10<tspan font-size="31" dx="-1.5" dy="-23">−3</tspan></text><text x="1514.5" y="1277.1" font-size="53" text-anchor="end">2.5×10<tspan font-size="31" dx="-1.5" dy="-23">−3</tspan></text><text x="1529.1" y="2324.8" font-size="53" text-anchor="middle">0</text><text x="1708.6" y="2324.8" font-size="53" text-anchor="middle">0.05</text><text x="1888.2" y="2324.8" font-size="53" text-anchor="middle">0.1</text><text x="2067.7" y="2324.8" font-size="53" text-anchor="middle">0.15</text><text x="2247.3" y="2324.8" font-size="53" text-anchor="middle">0.2</text><text x="2422.0" y="2324.8" font-size="53" text-anchor="middle">0.25</text><text x="1977.9" y="2403.6" font-size="58" text-anchor="middle">Frequency (Hz)</text><text transform="translate(1295.8,1761.6) rotate(-90)" font-size="58" text-anchor="middle">Power spectral density</text><path d="M2120.2 1336.1H2201.7" stroke="#ff1a1c" stroke-width="4.4"/><path d="M2120.2 1386.6H2201.7" stroke="#0080c2" stroke-width="4.4"/><text x="2253.1" y="1351.7" font-size="47">FBNO</text><text x="2253.1" y="1402.8" font-size="47">FBSO</text><path d="M2056.7 1486.0L2074.7 1486.0L2074.7 1576.3L2056.7 1580.8Z" stroke="#3a3a3a" stroke-width="2.6" fill="#b4b4b4" stroke-linejoin="round"/><path d="M2150.6 1486.0L2169.2 1486.0L2169.2 1580.8L2150.6 1576.3Z" stroke="#3a3a3a" stroke-width="2.6" fill="#b4b4b4" stroke-linejoin="round"/><path d="M2055.8 1634.9L2169.2 1634.9L2169.2 1604.2Q2162.5 1600.1 2151.5 1599.2L2072.9 1599.2Q2061.5 1600.1 2055.8 1604.2Z" stroke="#3a3a3a" stroke-width="2.6" fill="#b4b4b4" stroke-linejoin="round"/><circle cx="2292.3" cy="1560.8" r="88" fill="#fff" stroke="#000" stroke-width="3"/><path d="M2299.80 1567.90L2299.80 1636.53A76.1 76.1 0 0 0 2368.07 1567.90Z" fill="#0000ff"/><circle cx="2292.3" cy="1560.8" r="76.1" fill="none" stroke="#000" stroke-width="3"/><path d="M2285.80 1484.98V1636.62M2299.80 1485.07V1636.53M2216.51 1553.90H2368.09M2216.53 1567.90H2368.07" stroke="#000" stroke-width="2.6" fill="none"/></g>
</svg></body></html>
